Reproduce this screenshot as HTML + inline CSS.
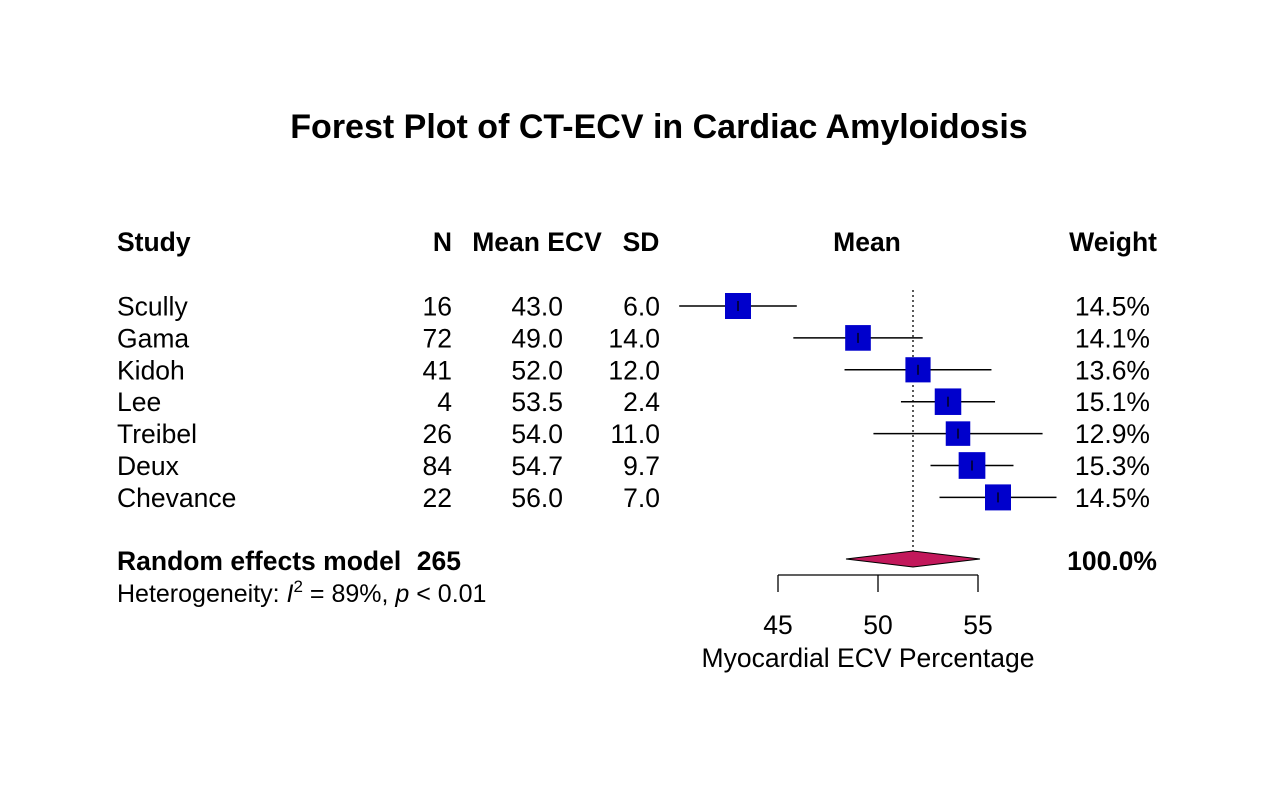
<!DOCTYPE html>
<html><head><meta charset="utf-8"><style>
body{margin:0;background:#fff}
svg text{font-family:"Liberation Sans",Arial,sans-serif;fill:#000}
</style></head><body>
<svg width="1280" height="802" xmlns="http://www.w3.org/2000/svg">
<rect width="1280" height="802" fill="#fff"/>
<text x="659" y="138" text-anchor="middle" font-size="34" font-weight="bold">Forest Plot of CT-ECV in Cardiac Amyloidosis</text>
<g font-size="26.5" font-weight="bold">
<text x="117" y="251">Study</text>
<text x="452" y="251" text-anchor="end">N</text>
<text x="537" y="251" text-anchor="middle">Mean ECV</text>
<text x="641" y="251" text-anchor="middle">SD</text>
<text x="867" y="251" text-anchor="middle">Mean</text>
<text x="1157" y="251" text-anchor="end">Weight</text>
</g>
<g id="rows"></g>
<g id="plot"></g>
<text x="117" y="570" font-size="26.5" font-weight="bold">Random effects model</text>
<text x="461" y="570" font-size="26.5" font-weight="bold" text-anchor="end">265</text>
<text x="1157" y="570" font-size="26.5" font-weight="bold" text-anchor="end">100.0%</text>
<text x="117" y="602" font-size="25">Heterogeneity: <tspan font-style="italic">I</tspan><tspan dy="-10" font-size="17">2</tspan><tspan dy="10"> = 89%, </tspan><tspan font-style="italic">p</tspan> &lt; 0.01</text>
<text x="868" y="667" font-size="26.5" text-anchor="middle">Myocardial ECV Percentage</text>
</svg>
<script>
const studies=["Scully","Gama","Kidoh","Lee","Treibel","Deux","Chevance"];
const ns=[16,72,41,4,26,84,22];
const means=[43.0,49.0,52.0,53.5,54.0,54.7,56.0];
const sds=[6.0,14.0,12.0,2.4,11.0,9.7,7.0];
const weights=[14.5,14.1,13.6,15.1,12.9,15.3,14.5];
const pooled=[48.4,51.75,55.1];
const ticks=[45,50,55];
const NS="http://www.w3.org/2000/svg";
const x=v=>778+(v-45)*20;
const rowY=i=>306+i*31.9;
function mk(tag,attrs,parent){const e=document.createElementNS(NS,tag);for(const k in attrs)e.setAttribute(k,attrs[k]);parent.appendChild(e);return e;}
const rows=document.getElementById('rows'),plot=document.getElementById('plot');
function txt(s,xx,y,anchor,name){const t=mk('text',{x:xx,y:y,'font-size':26.5,'text-anchor':anchor},rows);t.textContent=s;

}
const dl=mk('line',{x1:x(pooled[1]),x2:x(pooled[1]),y1:290,y2:552,stroke:'#000','stroke-width':1.3,'stroke-dasharray':'2,3'},plot);


studies.forEach((s,i)=>{const y=rowY(i);
txt(s,117,y+9.5,'start','study-name');
txt(String(ns[i]),452,y+9.5,'end','n-value');
txt(means[i].toFixed(1),563,y+9.5,'end','mean-value');
txt(sds[i].toFixed(1),660,y+9.5,'end','sd-value');
txt(weights[i].toFixed(1)+'%',1150,y+9.5,'end','weight-value');
const se=1.96*sds[i]/Math.sqrt(ns[i]);
const ci=mk('line',{x1:x(means[i]-se),x2:x(means[i]+se),y1:y,y2:y,stroke:'#000','stroke-width':1.5},plot);


const sz=26*Math.sqrt(weights[i]/14.5);
const sq=mk('rect',{x:x(means[i])-sz/2,y:y-sz/2,width:sz,height:sz,fill:'#0000cc'},plot);


const mt=mk('line',{x1:x(means[i]),x2:x(means[i]),y1:y-5,y2:y+5,stroke:'#000','stroke-width':1.3},plot);


});
const dy=559;
const dm=mk('polygon',{points:`${x(pooled[0])},${dy} ${x(pooled[1])},${dy-8} ${x(pooled[2])},${dy} ${x(pooled[1])},${dy+8}`,fill:'#c2185b',stroke:'#000','stroke-width':1},plot);


const ax=mk('line',{x1:x(ticks[0]),x2:x(ticks[ticks.length-1]),y1:575,y2:575,stroke:'#000','stroke-width':1.3},plot);


ticks.forEach(t=>{const l=mk('line',{x1:x(t),x2:x(t),y1:575,y2:592,stroke:'#000','stroke-width':1.3},plot);


const tl=mk('text',{x:x(t),y:634,'font-size':26.5,'text-anchor':'middle'},plot);tl.textContent=t;

});
</script>
</body></html>
